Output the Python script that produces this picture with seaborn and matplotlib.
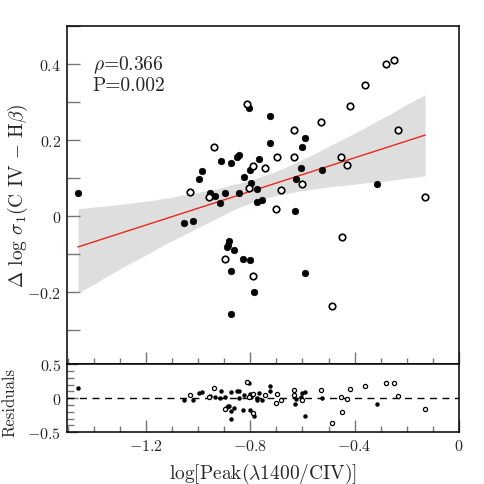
import numpy as np
import pandas as pd
import seaborn as sns
import matplotlib.pyplot as plt
from matplotlib.ticker import MultipleLocator, FuncFormatter

# filled symbols
x_filled = [-1.462, -0.806, -0.725, -0.725, -0.912, -0.874, -0.852, -0.843, -0.767,
            -0.800, -0.985, -0.997, -0.824, -0.796, -0.776, -0.896, -0.843, -0.954,
            -0.934, -0.915, -0.776, -0.757, -1.053, -1.021, -0.882, -0.887, -0.891,
            -0.862, -0.829, -0.800, -0.874, -0.785, -0.875, -0.589, -0.600, -0.604,
            -0.525, -0.625, -0.314, -0.628, -0.592]
y_filled = [0.061, 0.284, 0.262, 0.192, 0.143, 0.138, 0.154, 0.161, 0.149,
            0.121, 0.118, 0.097, 0.101, 0.087, 0.070, 0.060, 0.061, 0.061,
            0.052, 0.035, 0.037, 0.043, -0.018, -0.014, -0.067, -0.076, -0.083,
            -0.090, -0.114, -0.117, -0.146, -0.199, -0.257, 0.204, 0.182, 0.125,
            0.120, 0.096, 0.085, 0.012, -0.149]

# open symbols
x_open = [-0.812, -0.939, -0.698, -0.790, -0.742, -0.807, -1.032, -0.959, -0.701,
          -0.684, -0.898, -0.789, -0.250, -0.280, -0.359, -0.418, -0.527, -0.634,
          -0.232, -0.632, -0.451, -0.431, -0.600, -0.129, -0.449, -0.486]
y_open = [0.295, 0.182, 0.155, 0.130, 0.125, 0.074, 0.064, 0.049, 0.017,
          0.068, -0.113, -0.159, 0.410, 0.398, 0.343, 0.290, 0.246, 0.225,
          0.225, 0.155, 0.155, 0.133, 0.083, 0.049, -0.056, -0.238]

stats_lines = [r"$\rho$=0.366", "P=0.002"]
xlabel = r"log[Peak($\lambda$1400/CIV)]"
ylabel = r"$\Delta$ log $\sigma_{\rm 1}$(C IV $-$ H$\beta$)"

sns.set_style("ticks")
plt.rcParams["font.family"] = ["cmr10", "DejaVu Serif"]
plt.rcParams["mathtext.fontset"] = "cm"
plt.rcParams["axes.formatter.use_mathtext"] = True
plt.rcParams["axes.linewidth"] = 1.1
plt.rcParams["axes.edgecolor"] = "black"

df = pd.DataFrame({
    "x": x_filled + x_open,
    "y": y_filled + y_open,
    "kind": ["filled"] * len(x_filled) + ["open"] * len(x_open),
})
coef = np.polyfit(df["x"], df["y"], 1)
df["resid"] = df["y"] - np.polyval(coef, df["x"])
filled = df[df["kind"] == "filled"]
opened = df[df["kind"] == "open"]

fig = plt.figure(figsize=(4.85, 4.85), dpi=100)
ax = fig.add_axes([0.138, 0.247, 0.808, 0.698])
axr = fig.add_axes([0.138, 0.107, 0.808, 0.140], sharex=ax)

# grey confidence band (line hidden), then the red fit line on top
sns.regplot(data=df, x="x", y="y", ax=ax, scatter=False, color="#222222",
            seed=7, n_boot=2000, line_kws={"lw": 0})
sns.regplot(data=df, x="x", y="y", ax=ax, scatter=False, ci=None,
            color="#e8291c", line_kws={"lw": 1.0})
sns.scatterplot(data=filled, x="x", y="y", ax=ax, color="black", s=22,
                edgecolor="black", linewidth=0.5, zorder=3)
sns.scatterplot(data=opened, x="x", y="y", ax=ax, facecolor="white", s=22,
                edgecolor="black", linewidth=1.2, zorder=3)

sns.scatterplot(data=filled, x="x", y="resid", ax=axr, color="black", s=8,
                edgecolor="black", linewidth=0.3, zorder=3)
sns.scatterplot(data=opened, x="x", y="resid", ax=axr, facecolor="white", s=9,
                edgecolor="black", linewidth=0.9, zorder=3)
axr.axhline(0, color="black", lw=1.0, ls=(0, (5, 4)))

fmt = FuncFormatter(lambda v, p: "$%g$" % round(v, 3))

ax.set_xlim(-1.504, 0.0)
ax.set_ylim(-0.39, 0.5)
ax.yaxis.set_major_locator(MultipleLocator(0.2))
ax.yaxis.set_minor_locator(MultipleLocator(0.1))
ax.xaxis.set_major_locator(MultipleLocator(0.4))
ax.xaxis.set_minor_locator(MultipleLocator(0.1))
ax.yaxis.set_major_formatter(fmt)
ax.tick_params(axis="x", which="both", labelbottom=False)
axr.set_ylim(-0.5, 0.5)
axr.yaxis.set_major_locator(MultipleLocator(0.5))
axr.yaxis.set_minor_locator(MultipleLocator(0.1))
axr.yaxis.set_major_formatter(fmt)
axr.xaxis.set_major_formatter(fmt)

for a in (ax, axr):
    a.tick_params(which="both", direction="in", color="#777777", labelsize=11.5,
                  top=False, right=False, pad=4)
    a.tick_params(axis="x", which="major", length=9, width=1.0)
    a.tick_params(axis="x", which="minor", length=4, width=1.0)
ax.tick_params(axis="y", which="both", length=9, width=1.0)
axr.tick_params(axis="y", which="major", length=8, width=1.0)
axr.tick_params(axis="y", which="minor", length=5, width=1.0)

ax.set_xlabel("")
ax.set_ylabel(ylabel, fontsize=14)
ax.yaxis.set_label_coords(-0.095, 0.5)
axr.set_xlabel(xlabel, fontsize=14)
axr.set_ylabel("Residuals", fontsize=12)
axr.yaxis.set_label_coords(-0.125, 0.45)
axr.xaxis.set_label_coords(0.5, -0.42)

ax.text(0.066, 0.872, stats_lines[0], transform=ax.transAxes, fontsize=14,
        va="baseline")
ax.text(0.066, 0.811, stats_lines[1], transform=ax.transAxes, fontsize=14,
        va="baseline")

fig.savefig("out.png", dpi=100)
